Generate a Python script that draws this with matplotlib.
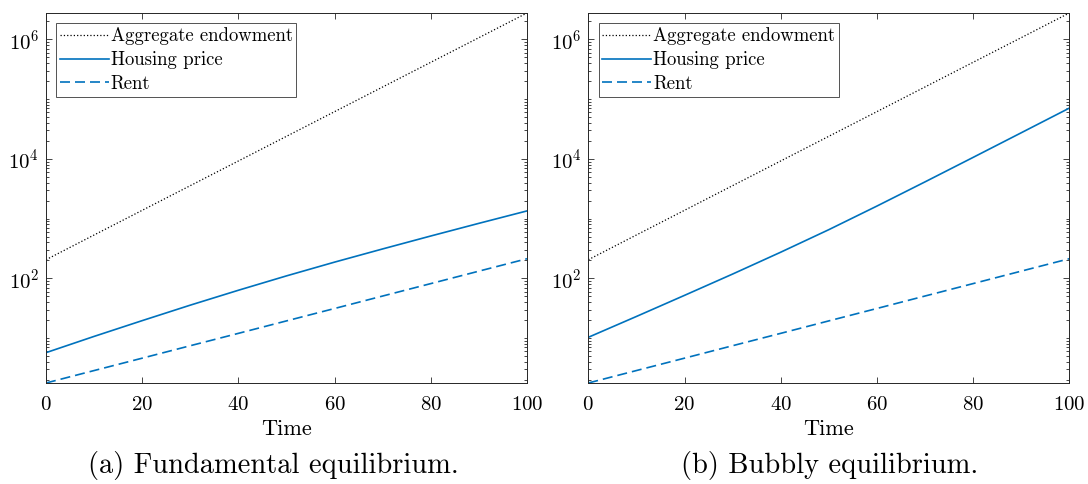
import numpy as np
import matplotlib
matplotlib.use("Agg")
import matplotlib.pyplot as plt
from matplotlib.ticker import FixedLocator, LogLocator, NullFormatter, LogFormatterMathtext

plt.rcParams['font.family'] = 'serif'
plt.rcParams['font.serif'] = ['cmr10', 'DejaVu Serif']
plt.rcParams['mathtext.fontset'] = 'cm'
plt.rcParams['axes.formatter.use_mathtext'] = True

# values (t = 0, 10, ..., 100)
time = [0, 10, 20, 30, 40, 50, 60, 70, 80, 90, 100]
endowment = [205, 532, 1377, 3565, 9226, 23880, 61800, 160000, 414000, 1070000, 2770000]
rent = [1.77, 2.86, 4.61, 7.45, 12.0, 19.4, 31.3, 50.6, 81.7, 132, 213]
price_fundamental = [5.7, 10.67, 19.6, 35.6, 63.2, 110, 187, 311, 512, 834, 1346]
price_bubbly = [10.3, 23.0, 51.9, 118, 274, 653, 1622, 4121, 10590, 27350, 70800]

captions = ["(a) Fundamental equilibrium.", "(b) Bubbly equilibrium."]
prices = [price_fundamental, price_bubbly]

blue = '#0072BD'
fig = plt.figure(figsize=(10.88, 4.84), dpi=100)
lefts = [46 / 1088, 588.3 / 1088]
caption_x = [273 / 1088, 830 / 1088]

for i in range(2):
    ax = fig.add_axes([lefts[i], 1 - 383 / 484, 481 / 1088, 370 / 484])
    ax.plot(time, endowment, color='black', linestyle=':', linewidth=0.9, label='Aggregate endowment')
    ax.plot(time, prices[i], color=blue, linestyle='-', linewidth=1.2, label='Housing price')
    ax.plot(time, rent, color=blue, linestyle=(0, (6, 3)), linewidth=1.2, label='Rent')
    ax.set_yscale('log')
    ax.set_xlim(0, 100)
    ax.set_ylim(min(rent), max(endowment))
    ax.set_xticks([0, 20, 40, 60, 80, 100])
    ax.yaxis.set_major_locator(FixedLocator([1e2, 1e4, 1e6]))
    ax.yaxis.set_major_formatter(LogFormatterMathtext())
    ax.yaxis.set_minor_locator(LogLocator(base=10, subs=np.arange(1, 10), numticks=50))
    ax.yaxis.set_minor_formatter(NullFormatter())
    ax.tick_params(which='both', direction='in', top=True, right=True, colors='#262626',
                   labelcolor='black', labelsize=15, width=0.6)
    ax.tick_params(which='major', length=4)
    ax.tick_params(axis='y', which='major', pad=5)
    ax.tick_params(axis='x', which='major', pad=9)
    ax.tick_params(which='minor', length=2.2)
    for s in ax.spines.values():
        s.set_color('#262626')
        s.set_linewidth(0.7)
    ax.set_xlabel('Time', fontsize=16, labelpad=4)
    leg = ax.legend(loc='upper left', fontsize=13.5, frameon=True, fancybox=False,
                    edgecolor='#262626', handlelength=2.6, handletextpad=0.1,
                    borderpad=0.2, labelspacing=0.32, borderaxespad=0.55)
    leg.get_frame().set_linewidth(0.7)
    fig.text(caption_x[i], 1 - 465 / 484, captions[i], ha='center', va='center', fontsize=20.5)

fig.savefig('out.png', dpi=100)
